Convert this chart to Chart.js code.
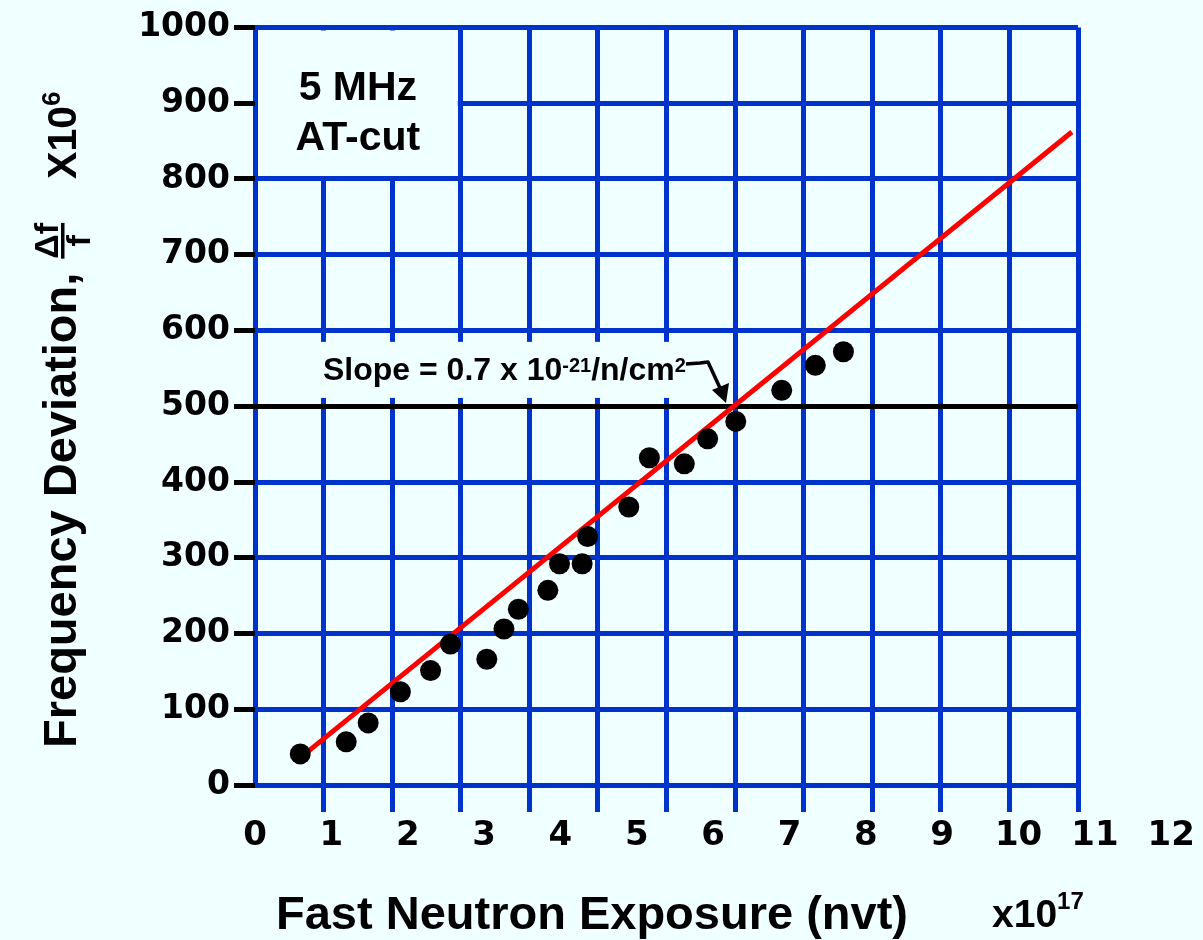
<!DOCTYPE html>
<html>
<head>
<meta charset="utf-8">
<script src="https://cdn.jsdelivr.net/npm/chart.js@4.4.1/dist/chart.umd.min.js"></script>
<style>
  html, body { margin: 0; padding: 0; background: #F0FFFF; }
  #wrap { width: 1203px; height: 940px; }
</style>
</head>
<body>
<div id="wrap"><canvas id="c" width="1203" height="940"></canvas></div>
<script>
// ---- data ----
const exposure  = [0.66, 1.33, 1.65, 2.12, 2.56, 2.85, 3.38, 3.63, 3.84, 4.27, 4.44, 4.77, 4.85, 5.45, 5.75, 6.26, 6.60, 7.01, 7.68, 8.17, 8.58];
const deviation = [41, 57, 82, 123, 151, 186, 166, 206, 232, 257, 292, 292, 328, 367, 432, 424, 457, 480, 521, 554, 572];
const fitExposure  = [0.77, 11.91];
const fitDeviation = [44, 862];
const xTickLabels = ['0','1','2','3','4','5','6','7','8','9','10','11','12'];
const yTickValues = [0,100,200,300,400,500,600,700,800,900,1000];

const BLUE = '#0033CC';
const BG = '#F0FFFF';
const SANS = "'Liberation Sans', Arial, sans-serif";
const WIDE = "'DejaVu Sans', sans-serif";

const annot = {
  id: 'annot',
  beforeDraw(chart) {
    const c = chart.ctx;
    c.save();
    c.fillStyle = BG;
    c.fillRect(0, 0, chart.width, chart.height);
    c.restore();
  },
  beforeDatasetsDraw(chart) {
    const c = chart.ctx, x = chart.scales.x, y = chart.scales.y;
    c.save();
    c.fillStyle = BG;
    // box behind "5 MHz AT-cut"
    const bx1 = x.getPixelForValue(0) + 3, bx2 = x.getPixelForValue(3) - 3;
    const by1 = y.getPixelForValue(1000) + 3, by2 = y.getPixelForValue(800) - 3;
    c.fillRect(bx1, by1, bx2 - bx1, by2 - by1);
    // box behind slope label
    const sx1 = x.getPixelForValue(0) + 3, sx2 = x.getPixelForValue(6.5);
    const sy1 = y.getPixelForValue(585), sy2 = y.getPixelForValue(511);
    c.fillRect(sx1, sy1, sx2 - sx1, sy2 - sy1);
    c.restore();
  },
  afterDraw(chart) {
    const c = chart.ctx, x = chart.scales.x;
    c.save();
    c.fillStyle = '#000';
    c.textBaseline = 'alphabetic';

    // "5 MHz / AT-cut"
    c.font = 'bold 41px ' + SANS;
    c.textAlign = 'center';
    const cx = x.getPixelForValue(1.5);
    c.fillText('5 MHz', cx, 100);
    c.fillText('AT-cut', cx, 150);

    // slope label
    c.textAlign = 'left';
    let px = 323;
    const base = 380;
    c.font = 'bold 32px ' + SANS;
    c.fillText('Slope = 0.7 x 10', px, base);
    px += c.measureText('Slope = 0.7 x 10').width;
    c.font = 'bold 20px ' + SANS;
    c.fillText('-21', px, base - 8);
    px += c.measureText('-21').width;
    c.font = 'bold 32px ' + SANS;
    c.fillText('/n/cm', px, base);
    px += c.measureText('/n/cm').width;
    c.font = 'bold 20px ' + SANS;
    c.fillText('2', px, base - 8);

    // arrow
    c.strokeStyle = '#000';
    c.lineWidth = 3.5;
    c.lineJoin = 'round';
    c.beginPath();
    c.moveTo(686, 364);
    c.lineTo(700, 363);
    c.lineTo(708, 362);
    c.lineTo(720, 388);
    c.stroke();
    c.beginPath();
    c.moveTo(726, 403);
    c.lineTo(712, 390);
    c.lineTo(729, 383);
    c.closePath();
    c.fill();

    // x title
    c.font = 'bold 47px ' + SANS;
    c.fillText('Fast Neutron Exposure (nvt)', 276, 929);
    c.font = 'bold 39px ' + SANS;
    c.fillText('x10', 992, 927);
    const w10 = c.measureText('x10').width;
    c.font = 'bold 24px ' + SANS;
    c.fillText('17', 992 + w10, 909);

    // y title (rotated)
    c.translate(76, 748);
    c.rotate(-Math.PI / 2);
    c.font = 'bold 47px ' + SANS;
    c.fillText('Frequency Deviation,', 0, 0);
    let t = c.measureText('Frequency Deviation,').width + 14;
    // fraction
    c.font = 'bold 34px ' + SANS;
    const wn = c.measureText('\u0394f').width;
    c.fillText('\u0394f', t, -18);
    c.fillRect(t, -15, wn, 3.5);
    c.textAlign = 'center';
    c.fillText('f', t + wn / 2, 14);
    c.textAlign = 'left';
    t += wn + 44;
    c.font = 'bold 41px ' + SANS;
    c.fillText('X10', t, 0);
    t += c.measureText('X10').width;
    c.font = 'bold 26px ' + SANS;
    c.fillText('6', t, -16);
    c.restore();
  }
};

const chart = new Chart(document.getElementById('c'), {
  type: 'scatter',
  data: {
    datasets: [
      {
        label: 'Measured',
        data: exposure.map((v, i) => ({ x: v, y: deviation[i] })),
        backgroundColor: '#000',
        borderColor: '#000',
        borderWidth: 0,
        pointRadius: 10.5,
        pointHoverRadius: 10.5,
        order: 0
      },
      {
        type: 'line',
        label: 'Fit',
        data: fitExposure.map((v, i) => ({ x: v, y: fitDeviation[i] })),
        borderColor: '#FF0000',
        borderWidth: 5,
        pointRadius: 0,
        fill: false,
        tension: 0,
        order: 1
      }
    ]
  },
  options: {
    responsive: false,
    animation: false,
    events: [],
    layout: { padding: { top: 27.5, right: 125, left: 0, bottom: 0 } },
    plugins: { legend: { display: false }, tooltip: { enabled: false } },
    scales: {
      x: {
        type: 'linear', position: 'bottom', min: 0, max: 12,
        ticks: { stepSize: 1, display: false },
        grid: {
          color: BLUE, lineWidth: 5, tickLength: 27, tickWidth: 5,
          tickColor: (ctx) => (ctx.tick && ctx.tick.value === 0) ? 'rgba(0,0,0,0)' : BLUE
        },
        border: { display: false },
        afterFit(s) { s.height = 27; }
      },
      x2: {
        type: 'linear', position: 'bottom', min: 0, max: 823.5 / 76.4,
        afterBuildTicks(s) { s.ticks = xTickLabels.map((l, i) => ({ value: i })); },
        ticks: {
          autoSkip: false, maxRotation: 0, minRotation: 0, padding: 4, color: '#000',
          font: { family: WIDE, weight: 'bold', size: 34 },
          callback: (v, i) => xTickLabels[i]
        },
        grid: { display: false, drawTicks: false },
        border: { display: false },
        afterFit(s) { s.height = 128; s.paddingLeft = 0; s.paddingRight = 0; }
      },
      y: {
        type: 'linear', min: 0, max: 1000,
        afterBuildTicks(s) { s.ticks = yTickValues.map(v => ({ value: v })); },
        ticks: {
          padding: 4, color: '#000',
          font: { family: WIDE, weight: 'bold', size: 33 },
          callback: (v) => String(v)
        },
        grid: {
          color: (ctx) => (ctx.tick && ctx.tick.value === 500) ? '#000' : BLUE,
          lineWidth: 5, tickLength: 21, tickWidth: 5, tickColor: '#000'
        },
        border: { display: false },
        afterFit(s) { s.width = 255; }
      }
    }
  },
  plugins: [annot]
});
</script>
</body>
</html>
